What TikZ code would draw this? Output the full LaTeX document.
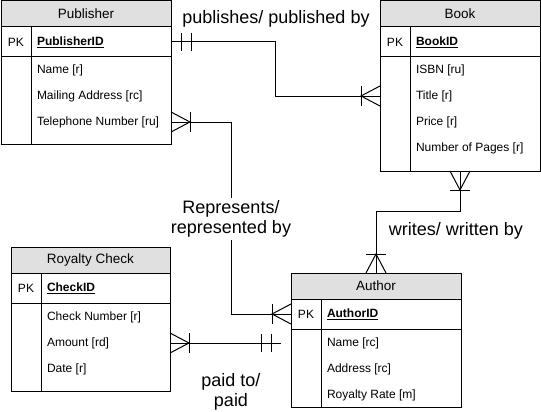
\documentclass[tikz,border=0pt]{standalone}
\usepackage{fontspec}
\setmainfont{Liberation Sans}
\definecolor{HeadGray}{RGB}{224,224,224}

\begin{document}
\begin{tikzpicture}[x=1pt,y=-1pt]
  \tikzset{TableStyle/.style = {
    shape         = rectangle,
    draw          = black,
    line width    = 1pt,
    inner sep     = 0pt,
    outer sep     = 0pt,
    anchor        = north west
    }
  }
  \tikzset{HeadStyle/.style = {
    TableStyle,
    fill           = HeadGray,
    minimum height = 26pt,
    font           = \fontsize{13.5}{16}\selectfont
    }
  }
  \tikzset{KeyRowStyle/.style = {
    TableStyle,
    minimum height = 30pt
    }
  }
  \tikzset{FieldStyle/.style = {
    inner sep     = 0pt,
    outer sep     = 0pt,
    anchor        = west,
    text          = black,
    font          = \fontsize{12}{14}\selectfont
    }
  }
  \tikzset{KeyStyle/.style = {
    FieldStyle,
    font          = \fontsize{12}{14}\selectfont\bfseries
    }
  }
  \tikzset{LabelStyle/.style = {
    fill          = white,
    align         = center,
    inner sep     = 2pt,
    text          = black,
    font          = \fontsize{18}{20.5}\selectfont
    }
  }
  \tikzset{RelStyle/.style = {
    draw          = black,
    line width    = 1pt
    }
  }
  \tikzset{CrowMany/.pic = {
    \draw[RelStyle] (0,-10) -- (-19,0) -- (0,10);
    \draw[RelStyle] (-19,-10) -- (-19,10);
    }
  }
  \tikzset{MandOne/.pic = {
    \draw[RelStyle] (-10,-9) -- (-10,9);
    \draw[RelStyle] (-20,-9) -- (-20,9);
    }
  }
  \useasboundingbox (0,0) rectangle (541,412);

  % Publisher
  \node[TableStyle, minimum width=170pt, minimum height=143pt](Pub) at (1,1) {};
  \node[HeadStyle, minimum width=170pt](PubHead) at (Pub.north west) {Publisher};
  \node[KeyRowStyle, minimum width=170pt](PubKey) at (PubHead.south west) {};
  \draw[RelStyle] ([xshift=30pt]PubKey.north west) -- ([xshift=30pt]Pub.south west);
  \node[FieldStyle, anchor=center](PubPK) at ([xshift=15pt]PubKey.west) {PK};
  \node[KeyStyle](PubID) at ([xshift=36pt]PubKey.west) {\underline{PublisherID}};
  \node[FieldStyle](PubName) at (37,70) {Name [r]};
  \node[FieldStyle](PubMail) at (37,96) {Mailing Address [rc]};
  \node[FieldStyle](PubTel) at (37,122) {Telephone Number [ru]};

  % Book
  \node[TableStyle, minimum width=160pt, minimum height=170pt](Book) at (380,1) {};
  \node[HeadStyle, minimum width=160pt](BookHead) at (Book.north west) {Book};
  \node[KeyRowStyle, minimum width=160pt](BookKey) at (BookHead.south west) {};
  \draw[RelStyle] ([xshift=30pt]BookKey.north west) -- ([xshift=30pt]Book.south west);
  \node[FieldStyle, anchor=center](BookPK) at ([xshift=15pt]BookKey.west) {PK};
  \node[KeyStyle](BookID) at ([xshift=36pt]BookKey.west) {\underline{BookID}};
  \node[FieldStyle](BookISBN) at (416,70) {ISBN [ru]};
  \node[FieldStyle](BookTitle) at (416,96) {Title [r]};
  \node[FieldStyle](BookPrice) at (416,122) {Price [r]};
  \node[FieldStyle](BookPages) at (416,148) {Number of Pages [r]};

  % Royalty Check
  \node[TableStyle, minimum width=159pt, minimum height=144pt](Roy) at (11,247) {};
  \node[HeadStyle, minimum width=159pt](RoyHead) at (Roy.north west) {Royalty Check};
  \node[KeyRowStyle, minimum width=159pt](RoyKey) at (RoyHead.south west) {};
  \draw[RelStyle] ([xshift=30pt]RoyKey.north west) -- ([xshift=30pt]Roy.south west);
  \node[FieldStyle, anchor=center](RoyPK) at ([xshift=15pt]RoyKey.west) {PK};
  \node[KeyStyle](RoyID) at ([xshift=36pt]RoyKey.west) {\underline{CheckID}};
  \node[FieldStyle](RoyNum) at (47,317) {Check Number [r]};
  \node[FieldStyle](RoyAmt) at (47,343) {Amount [rd]};
  \node[FieldStyle](RoyDate) at (47,369) {Date [r]};

  % Author
  \node[TableStyle, minimum width=170pt, minimum height=134pt](Auth) at (291,273) {};
  \node[HeadStyle, minimum width=170pt](AuthHead) at (Auth.north west) {Author};
  \node[KeyRowStyle, minimum width=170pt](AuthKey) at (AuthHead.south west) {};
  \draw[RelStyle] ([xshift=30pt]AuthKey.north west) -- ([xshift=30pt]Auth.south west);
  \node[FieldStyle, anchor=center](AuthPK) at ([xshift=15pt]AuthKey.west) {PK};
  \node[KeyStyle](AuthID) at ([xshift=36pt]AuthKey.west) {\underline{AuthorID}};
  \node[FieldStyle](AuthName) at (327,343) {Name [rc]};
  \node[FieldStyle](AuthAddr) at (327,369) {Address [rc]};
  \node[FieldStyle](AuthRate) at (327,395) {Royalty Rate [m]};

  % relationships
  \coordinate (PubBend) at (275,96);
  \draw[RelStyle] (PubKey.east) -| (PubBend) -- (Book.west |- PubBend);
  \pic[rotate=180] at (PubKey.east) {MandOne};
  \pic at (Book.west |- PubBend) {CrowMany};

  \coordinate (RepBend) at (231,314);
  \draw[RelStyle] (Pub.east |- PubTel) -| (RepBend) -- (AuthKey.west);
  \pic[rotate=180] at (Pub.east |- PubTel) {CrowMany};
  \pic at (AuthKey.west) {CrowMany};

  \coordinate (WriteBend) at (460,211);
  \draw[RelStyle] (Book.south) -- (WriteBend) -| (Auth.north);
  \pic[rotate=90] at (Book.south) {CrowMany};
  \pic[rotate=-90] at (Auth.north) {CrowMany};

  \coordinate (PaidEnd) at (281,343);
  \draw[RelStyle] (Roy.east |- RoyAmt) -- (PaidEnd);
  \pic[rotate=180] at (Roy.east |- RoyAmt) {CrowMany};
  \pic at (PaidEnd) {MandOne};

  \node[LabelStyle](PubLabel) at (276,19) {publishes/ published by};
  \node[LabelStyle](RepLabel) at (231,219) {Represents/\\represented by};
  \node[LabelStyle](WriteLabel) at (456,231) {writes/ written by};
  \node[LabelStyle](PaidLabel) at (231,392) {paid to/\\paid};

\end{tikzpicture}
\end{document}
